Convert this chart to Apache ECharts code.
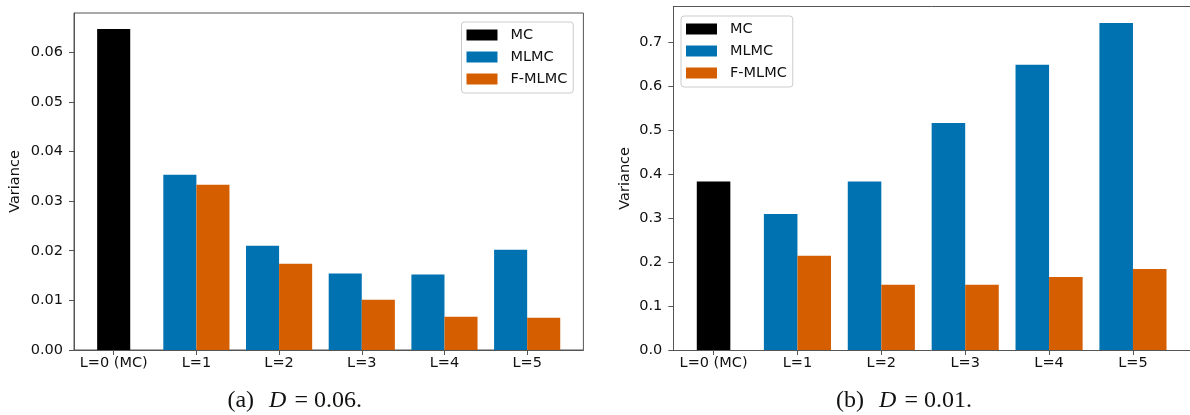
<!DOCTYPE html>
<html>
<head>
<meta charset="utf-8">
<script src="https://cdn.jsdelivr.net/npm/echarts@6/dist/echarts.min.js"></script>
<style>
html,body{margin:0;padding:0;background:#fff;}
#chart{width:1190px;height:415px;}
</style>
</head>
<body>
<div id="chart"></div>
<script>
// ---- data ----
const categories = ['L=0 (MC)', 'L=1', 'L=2', 'L=3', 'L=4', 'L=5'];
const positions = [0, 1, 2, 3, 4, 5];
const seriesNames = ['MC', 'MLMC', 'F-MLMC'];

// (a) D = 0.06
const mcA = [0.0647];
const mlmcA = [0.0353, 0.0210, 0.0154, 0.0152, 0.0202];
const fmlmcA = [0.0333, 0.0174, 0.0101, 0.0067, 0.0065];
const yTicksA = [0, 0.01, 0.02, 0.03, 0.04, 0.05, 0.06];

// (b) D = 0.01
const mcB = [0.383];
const mlmcB = [0.309, 0.383, 0.516, 0.648, 0.743];
const fmlmcB = [0.214, 0.148, 0.148, 0.166, 0.184];
const yTicksB = [0, 0.1, 0.2, 0.3, 0.4, 0.5, 0.6, 0.7];

const captionA = ['(a)', 'D', '= 0.06.'];
const captionB = ['(b)', 'D', '= 0.01.'];

// ---- style ----
const COLORS = { 'MC': '#000000', 'MLMC': '#0072B2', 'F-MLMC': '#D55E00' };
const BAR_W = 0.4;
const FONT = 'DejaVu Sans';
const FS = 14.5;
const AXIS_COLOR = '#555';

function render(offset) {
  return function (params, api) {
    const x = api.value(0), y = api.value(1);
    const p0 = api.coord([x + offset, y]);
    const p1 = api.coord([x + offset + BAR_W, 0]);
    return {
      type: 'rect',
      shape: { x: p0[0], y: p0[1], width: p1[0] - p0[0], height: p1[1] - p0[1] },
      style: { fill: api.visual('color') }
    };
  };
}

function xAxis(gridIndex) {
  return {
    type: 'value', gridIndex: gridIndex, min: -0.48, max: 5.68,
    splitLine: { show: false },
    axisLine: { show: true, onZero: false, lineStyle: { color: AXIS_COLOR, width: 1 } },
    axisTick: { show: true, customValues: positions, length: 5, lineStyle: { color: AXIS_COLOR } },
    axisLabel: {
      customValues: positions, margin: 6, color: '#111', fontFamily: FONT, fontSize: FS,
      formatter: v => categories[Math.round(v)]
    }
  };
}

// top spine only (no ticks/labels)
function topSpine(gridIndex) {
  return {
    type: 'value', gridIndex: gridIndex, position: 'top', min: -0.48, max: 5.68,
    splitLine: { show: false },
    axisLine: { show: true, onZero: false, lineStyle: { color: AXIS_COLOR, width: 1 } },
    axisTick: { show: false }, axisLabel: { show: false }
  };
}

function yAxis(gridIndex, max, ticks, digits, gap) {
  return {
    type: 'value', gridIndex: gridIndex, min: 0, max: max,
    splitLine: { show: false },
    axisLine: { show: true, onZero: false, lineStyle: { color: AXIS_COLOR, width: 1 } },
    axisTick: { show: true, customValues: ticks, length: 5, lineStyle: { color: AXIS_COLOR } },
    axisLabel: {
      customValues: ticks, margin: 11, color: '#111', fontFamily: FONT, fontSize: FS,
      formatter: v => v.toFixed(digits)
    },
    name: 'Variance', nameLocation: 'middle', nameGap: gap,
    nameTextStyle: { color: '#111', fontFamily: FONT, fontSize: FS }
  };
}

function seriesFor(idx, mc, mlmc, fmlmc) {
  return [
    { name: 'MC', type: 'custom', xAxisIndex: idx, yAxisIndex: idx, color: COLORS['MC'],
      renderItem: render(-BAR_W / 2), data: mc.map((v, i) => [positions[i], v]) },
    { name: 'MLMC', type: 'custom', xAxisIndex: idx, yAxisIndex: idx, color: COLORS['MLMC'],
      renderItem: render(-BAR_W), data: mlmc.map((v, i) => [positions[i + 1], v]) },
    { name: 'F-MLMC', type: 'custom', xAxisIndex: idx, yAxisIndex: idx, color: COLORS['F-MLMC'],
      renderItem: render(0), data: fmlmc.map((v, i) => [positions[i + 1], v]) }
  ];
}

function legend(left, top) {
  return {
    orient: 'vertical', left: left, top: top,
    data: seriesNames.map(n => ({ name: n, icon: 'rect' })),
    itemWidth: 31, itemHeight: 11, itemGap: 6,
    padding: [5, 6, 6, 5],
    backgroundColor: 'rgba(255,255,255,0.8)',
    borderColor: '#cccccc', borderWidth: 1, borderRadius: 3,
    selectedMode: false,
    textStyle: { color: '#111', fontFamily: FONT, fontSize: FS, lineHeight: 16, padding: [0, 0, 0, 8] }
  };
}

function caption(x, parts) {
  return {
    type: 'text', x: x, y: 401,
    style: {
      text: '{n|' + parts[0] + '}{i|' + parts[1] + '}{e|' + parts[2] + '}',
      align: 'center', verticalAlign: 'middle',
      rich: {
        n: { fontFamily: 'Liberation Serif', fontSize: 24, fill: '#111', padding: [0, 15, 0, 0] },
        i: { fontFamily: 'Liberation Serif', fontSize: 24, fontStyle: 'italic', fill: '#111', padding: [0, 8, 0, 0] },
        e: { fontFamily: 'Liberation Serif', fontSize: 24, fill: '#111' }
      }
    }
  };
}

const chart = echarts.init(document.getElementById('chart'), null, { renderer: 'canvas' });
chart.setOption({
  animation: false,
  backgroundColor: '#fff',
  grid: [
    { left: 74, top: 13, width: 509.4, height: 337, show: true, borderColor: AXIS_COLOR, borderWidth: 1, backgroundColor: 'transparent' },
    { left: 673.3, top: 6.7, width: 518.6, height: 343.3, show: false }
  ],
  xAxis: [xAxis(0), xAxis(1), topSpine(1)],
  yAxis: [yAxis(0, 0.0679, yTicksA, 2, 51), yAxis(1, 0.78, yTicksB, 1, 41)],
  legend: [legend(461.5, 22), legend(681, 16)],
  series: seriesFor(0, mcA, mlmcA, fmlmcA).concat(seriesFor(1, mcB, mlmcB, fmlmcB)),
  graphic: [caption(294.7, captionA), caption(904, captionB)]
});
</script>
</body>
</html>
